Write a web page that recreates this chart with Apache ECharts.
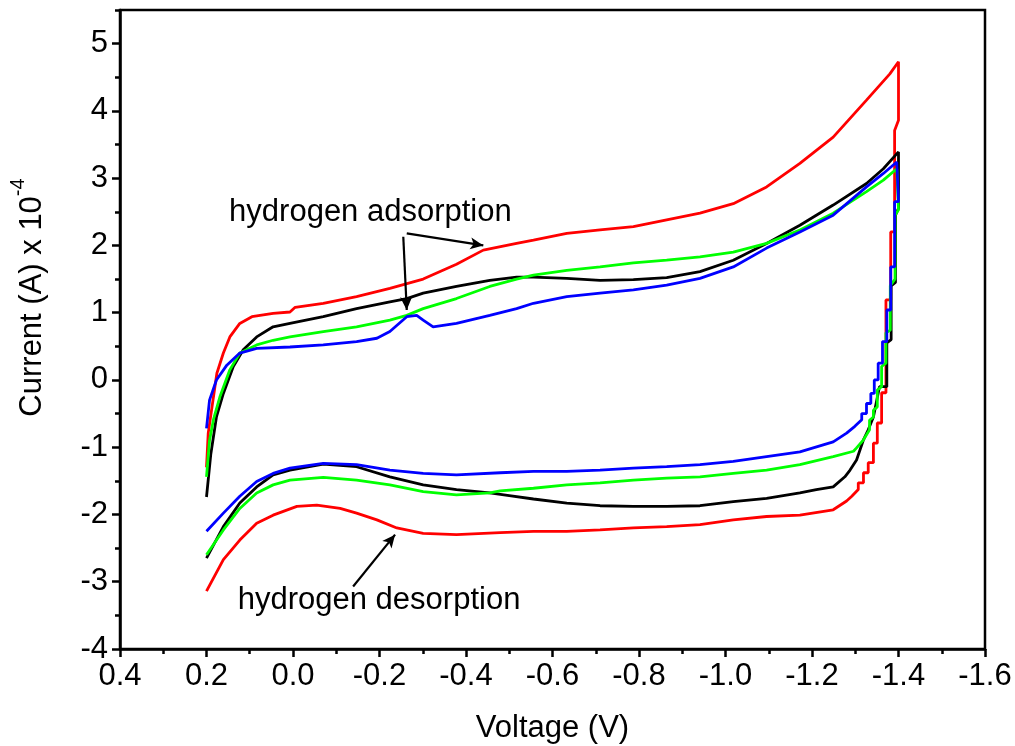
<!DOCTYPE html>
<html>
<head>
<meta charset="utf-8">
<script src="https://cdn.jsdelivr.net/npm/echarts@6/dist/echarts.min.js"></script>
<style>
  html, body { margin: 0; padding: 0; background: #fff; }
  #chart { width: 1015px; height: 746px; }
</style>
</head>
<body>
<div id="chart"></div>
<script>
// Cyclic voltammograms: [voltage (V), current (A x 1e-4)] in scan order
// (0.2 V -> -1.4 V, switch, back to 0.2 V).
const redScan = [
  [0.200,-1.30],[0.196,-0.79],[0.176,0.10],[0.161,0.40],[0.146,0.64],[0.123,0.84],
  [0.095,0.94],[0.046,0.99],[0.007,1.01],[-0.005,1.08],[-0.070,1.14],[-0.147,1.24],
  [-0.224,1.36],[-0.301,1.50],[-0.378,1.72],[-0.440,1.93],[-0.517,2.03],[-0.556,2.08],
  [-0.633,2.18],[-0.710,2.23],[-0.787,2.28],[-0.864,2.38],[-0.941,2.48],[-1.018,2.62],
  [-1.095,2.87],[-1.172,3.22],[-1.249,3.61],[-1.326,4.16],[-1.380,4.55],[-1.400,4.73],
  [-1.400,3.86],[-1.391,3.71],[-1.391,2.20],[-1.382,2.20],[-1.382,1.19],[-1.371,1.19],
  [-1.371,-0.19],[-1.361,-0.19],[-1.361,-0.64],[-1.351,-0.64],[-1.351,-0.94],[-1.342,-0.94],
  [-1.342,-1.23],[-1.330,-1.23],[-1.330,-1.38],[-1.319,-1.38],[-1.319,-1.53],[-1.307,-1.53],
  [-1.307,-1.63],[-1.292,-1.73],[-1.280,-1.80],[-1.249,-1.93],[-1.172,-2.01],[-1.095,-2.03],
  [-1.018,-2.08],[-0.941,-2.15],[-0.864,-2.18],[-0.787,-2.20],[-0.710,-2.23],[-0.633,-2.25],
  [-0.556,-2.25],[-0.479,-2.27],[-0.378,-2.30],[-0.301,-2.28],[-0.240,-2.20],[-0.194,-2.08],
  [-0.147,-1.98],[-0.109,-1.91],[-0.055,-1.86],[-0.009,-1.88],[0.046,-2.01],[0.084,-2.13],
  [0.123,-2.38],[0.161,-2.67],[0.200,-3.14]
];

const blackScan = [
  [0.200,-1.74],[0.190,-1.10],[0.177,-0.55],[0.161,-0.20],[0.138,0.20],[0.115,0.45],
  [0.084,0.64],[0.046,0.79],[0.007,0.84],[-0.070,0.94],[-0.147,1.06],[-0.224,1.16],
  [-0.263,1.21],[-0.301,1.29],[-0.378,1.39],[-0.455,1.48],[-0.517,1.53],[-0.556,1.53],
  [-0.633,1.51],[-0.710,1.48],[-0.787,1.49],[-0.864,1.52],[-0.941,1.61],[-1.018,1.78],
  [-1.095,2.03],[-1.172,2.30],[-1.249,2.60],[-1.326,2.92],[-1.365,3.14],[-1.400,3.39],
  [-1.400,2.55],[-1.393,2.45],[-1.393,1.45],[-1.383,1.40],[-1.383,0.60],[-1.373,0.55],
  [-1.373,-0.10],[-1.356,-0.10],[-1.342,-0.55],[-1.330,-0.74],[-1.319,-0.89],[-1.303,-1.19],
  [-1.288,-1.34],[-1.276,-1.44],[-1.249,-1.59],[-1.210,-1.63],[-1.172,-1.68],[-1.095,-1.76],
  [-1.018,-1.81],[-0.941,-1.87],[-0.864,-1.88],[-0.787,-1.88],[-0.710,-1.87],[-0.633,-1.83],
  [-0.556,-1.77],[-0.500,-1.72],[-0.455,-1.68],[-0.378,-1.63],[-0.301,-1.56],[-0.224,-1.44],
  [-0.147,-1.29],[-0.070,-1.25],[0.007,-1.34],[0.046,-1.41],[0.084,-1.59],[0.123,-1.83],
  [0.161,-2.18],[0.200,-2.65]
];

const greenScan = [
  [0.200,-1.44],[0.193,-0.90],[0.184,-0.59],[0.169,-0.25],[0.146,0.15],[0.123,0.40],
  [0.084,0.52],[0.046,0.59],[0.007,0.64],[-0.070,0.72],[-0.147,0.79],[-0.224,0.89],
  [-0.263,0.96],[-0.301,1.06],[-0.378,1.21],[-0.455,1.39],[-0.517,1.50],[-0.556,1.56],
  [-0.633,1.63],[-0.710,1.68],[-0.787,1.74],[-0.864,1.78],[-0.941,1.83],[-1.018,1.90],
  [-1.095,2.03],[-1.172,2.23],[-1.249,2.48],[-1.326,2.80],[-1.365,2.97],[-1.396,3.14],
  [-1.400,3.14],[-1.400,2.53],[-1.392,2.45],[-1.392,1.50],[-1.381,1.40],[-1.381,0.74],
  [-1.371,0.70],[-1.371,0.25],[-1.361,0.20],[-1.361,-0.10],[-1.351,-0.15],[-1.351,-0.40],
  [-1.342,-0.45],[-1.342,-0.55],[-1.333,-0.60],[-1.333,-0.74],[-1.319,-0.89],[-1.303,-1.01],
  [-1.296,-1.06],[-1.249,-1.14],[-1.172,-1.26],[-1.095,-1.34],[-1.018,-1.39],[-0.941,-1.44],
  [-0.864,-1.46],[-0.787,-1.49],[-0.710,-1.53],[-0.633,-1.56],[-0.556,-1.61],[-0.479,-1.65],
  [-0.455,-1.68],[-0.378,-1.71],[-0.301,-1.66],[-0.224,-1.56],[-0.147,-1.49],[-0.070,-1.45],
  [0.007,-1.49],[0.046,-1.56],[0.084,-1.68],[0.123,-1.91],[0.161,-2.23],[0.200,-2.60]
];

const blueScan = [
  [0.200,-0.72],[0.193,-0.30],[0.177,0.00],[0.153,0.22],[0.123,0.40],[0.084,0.47],
  [0.007,0.49],[-0.070,0.52],[-0.147,0.57],[-0.194,0.62],[-0.224,0.72],[-0.263,0.94],
  [-0.286,0.96],[-0.301,0.89],[-0.324,0.79],[-0.378,0.84],[-0.455,0.96],[-0.517,1.06],
  [-0.556,1.14],[-0.633,1.24],[-0.710,1.29],[-0.787,1.34],[-0.864,1.41],[-0.941,1.51],
  [-1.018,1.68],[-1.095,1.96],[-1.172,2.20],[-1.249,2.45],[-1.326,2.87],[-1.365,3.07],
  [-1.396,3.24],[-1.400,3.24],[-1.400,2.65],[-1.391,2.65],[-1.391,1.68],[-1.382,1.68],
  [-1.382,1.04],[-1.373,1.04],[-1.373,0.57],[-1.363,0.57],[-1.363,0.25],[-1.353,0.25],
  [-1.353,0.00],[-1.344,0.00],[-1.344,-0.20],[-1.336,-0.20],[-1.336,-0.35],[-1.326,-0.35],
  [-1.326,-0.50],[-1.315,-0.50],[-1.315,-0.59],[-1.299,-0.69],[-1.280,-0.79],[-1.249,-0.92],
  [-1.172,-1.07],[-1.095,-1.14],[-1.018,-1.21],[-0.941,-1.26],[-0.864,-1.29],[-0.787,-1.31],
  [-0.710,-1.34],[-0.633,-1.36],[-0.556,-1.36],[-0.479,-1.38],[-0.378,-1.41],[-0.301,-1.39],
  [-0.224,-1.34],[-0.147,-1.26],[-0.070,-1.24],[0.007,-1.31],[0.046,-1.39],[0.084,-1.51],
  [0.123,-1.73],[0.161,-1.98],[0.200,-2.25]
];

// Axis ticks
const xTicks = { min: -1.6, max: 0.4, step: 0.2 };
const yMajorTicks = [-4, -3, -2, -1, 0, 1, 2, 3, 4, 5];
const yRange = { min: -4, max: 5.5 };

// Annotation texts and arrows (data coordinates)
const noteTexts = [
  { text: 'hydrogen adsorption', at: [-0.179, 2.49] },
  { text: 'hydrogen desorption', at: [-0.199, -3.28] }
];
const noteArrows = [
  [[-0.263, 2.18], [-0.440, 2.00]],
  [[-0.255, 2.13], [-0.263, 1.04]],
  [[-0.139, -3.07], [-0.236, -2.30]]
];

const FONT = '"Liberation Sans", Arial, Helvetica, sans-serif';
const AXIS_W = 2.5;

const chart = echarts.init(document.getElementById('chart'), null, { renderer: 'canvas' });

function curve(name, color, data) {
  return {
    name, type: 'line', data,
    showSymbol: false, symbol: 'none',
    lineStyle: { color, width: 2.8 },
    itemStyle: { color },
    animation: false
  };
}

const axisBase = {
  axisLine: { show: true, onZero: false, lineStyle: { color: '#000', width: AXIS_W } },
  splitLine: { show: false },
  nameTextStyle: { color: '#000', fontSize: 31, fontFamily: FONT }
};

chart.setOption({
  backgroundColor: '#fff',
  animation: false,
  grid: {
    left: 120, right: 30, top: 10, bottom: 97,
    outerBoundsMode: 'none', containLabel: false,
    show: true, borderColor: '#000', borderWidth: AXIS_W, backgroundColor: 'transparent'
  },
  xAxis: Object.assign({}, axisBase, {
    type: 'value', inverse: true,
    min: xTicks.min, max: xTicks.max, interval: xTicks.step,
    axisTick: { show: true, inside: false, length: 8, lineStyle: { color: '#000', width: AXIS_W } },
    minorTick: { show: true, splitNumber: 2, length: 5, lineStyle: { color: '#000', width: AXIS_W } },
    axisLabel: {
      color: '#000', fontSize: 31, fontFamily: FONT, margin: 12,
      formatter: v => (Math.abs(v) < 1e-9 ? 0 : v).toFixed(1)
    },
    name: 'Voltage (V)', nameLocation: 'middle', nameGap: 64
  }),
  yAxis: [
    Object.assign({}, axisBase, {
      type: 'value', min: yRange.min, max: yRange.max, interval: 1,
      axisTick: { show: true, inside: false, length: 8, customValues: yMajorTicks,
                  lineStyle: { color: '#000', width: AXIS_W } },
      axisLabel: { color: '#000', fontSize: 31, fontFamily: FONT, margin: 12,
                   customValues: yMajorTicks, formatter: v => String(v) },
      name: '{a|Current (A) x 10}{b|-4}',
      nameLocation: 'middle', nameGap: 72,
      nameTextStyle: {
        color: '#000', fontFamily: FONT,
        padding: [0, 0, 0, 64],
        rich: {
          a: { fontSize: 31, fontFamily: FONT, color: '#000', lineHeight: 40, verticalAlign: 'bottom' },
          b: { fontSize: 20, fontFamily: FONT, color: '#000', lineHeight: 40, verticalAlign: 'top' }
        }
      }
    }),
    {
      // half-unit minor ticks on the current axis
      type: 'value', position: 'left', min: yRange.min, max: yRange.max, interval: 0.5,
      axisLine: { show: false, onZero: false },
      axisTick: { show: true, inside: false, length: 5, lineStyle: { color: '#000', width: AXIS_W } },
      axisLabel: { show: false },
      splitLine: { show: false }
    }
  ],
  series: [
    curve('red', '#ff0000', redScan),
    curve('black', '#000000', blackScan),
    curve('green', '#00ff00', greenScan),
    curve('blue', '#0000ff', blueScan),
    {
      name: 'arrows', type: 'line', data: [], silent: true,
      markLine: {
        silent: true, animation: false,
        symbol: ['none', 'arrow'], symbolSize: [9, 13],
        label: { show: false },
        lineStyle: { color: '#000', width: 2.2, type: 'solid' },
        emphasis: { disabled: true },
        data: noteArrows.map(([a, b]) => [{ coord: a }, { coord: b }])
      }
    }
  ]
});

// Annotation captions, placed at their data coordinates.
chart.setOption({
  graphic: noteTexts.map(n => {
    const p = chart.convertToPixel({ gridIndex: 0 }, n.at);
    return {
      type: 'text', x: p[0], y: p[1], z: 100, silent: true,
      style: {
        text: n.text, fill: '#000', font: '31px ' + FONT,
        align: 'center', verticalAlign: 'middle'
      }
    };
  })
});
</script>
</body>
</html>
